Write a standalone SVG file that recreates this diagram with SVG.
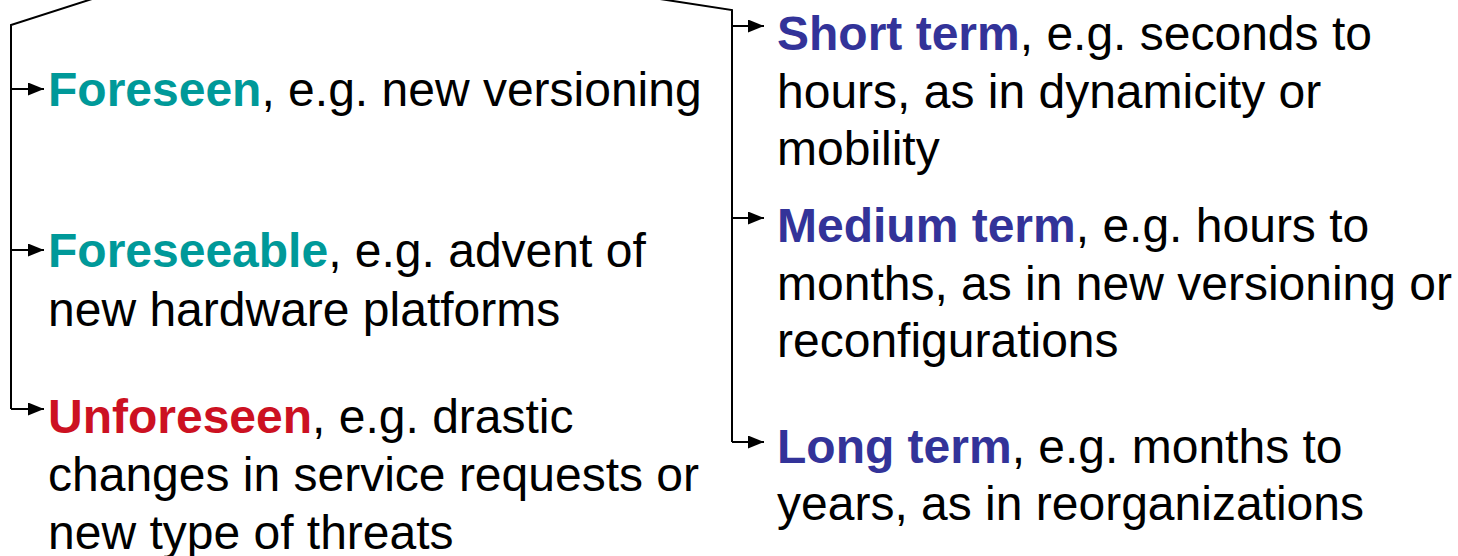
<svg xmlns="http://www.w3.org/2000/svg" width="1458" height="556" viewBox="0 0 1458 556">
  <defs>
    <marker id="arrow" viewBox="0 0 16 13" refX="16" refY="6.5" markerWidth="16" markerHeight="13" markerUnits="userSpaceOnUse" orient="auto">
      <path d="M0,0 L16,6.5 L0,13 z" fill="#000"/>
    </marker>
    <style>
      .txt { font-family: "Liberation Sans", Arial, sans-serif; font-size: 48px; fill: #000; }
      .b { font-weight: bold; }
      .teal { fill: #009999; }
      .blue { fill: #333399; }
      .red { fill: #CC1122; }
      .line { fill: none; stroke: #000; stroke-width: 2; }
      .arr { fill: none; stroke: #000; stroke-width: 2; marker-end: url(#arrow); }
    </style>
  </defs>
  <rect width="1458" height="556" fill="#fff"/>

  <!-- connectors -->
  <g id="connectors">
    <polyline class="line" points="92,-1 11,25 11,409"/>
    <line class="arr" x1="11" y1="89" x2="44" y2="89"/>
    <line class="arr" x1="11" y1="250" x2="44" y2="250"/>
    <line class="arr" x1="11" y1="409" x2="44" y2="409"/>

    <polyline class="line" points="660,-1 732,10 732,442"/>
    <line class="arr" x1="732" y1="26" x2="764" y2="26"/>
    <line class="arr" x1="732" y1="218" x2="764" y2="218"/>
    <line class="arr" x1="732" y1="442" x2="764" y2="442"/>
  </g>

  <!-- left column: kinds of change -->
  <g id="foreseen">
    <text class="txt" x="48" y="106"><tspan class="b teal">Foreseen</tspan>, e.g. new versioning</text>
  </g>
  <g id="foreseeable">
    <text class="txt" x="48" y="267"><tspan class="b teal">Foreseeable</tspan>, e.g. advent of</text>
    <text class="txt" x="48" y="326">new hardware platforms</text>
  </g>
  <g id="unforeseen">
    <text class="txt" x="48" y="433"><tspan class="b red">Unforeseen</tspan>, e.g. drastic</text>
    <text class="txt" x="48" y="491">changes in service requests or</text>
    <text class="txt" x="48" y="549">new type of threats</text>
  </g>

  <!-- right column: time frames -->
  <g id="short-term">
    <text class="txt" x="777" y="50"><tspan class="b blue">Short term</tspan>, e.g. seconds to</text>
    <text class="txt" x="777" y="108">hours, as in dynamicity or</text>
    <text class="txt" x="777" y="165">mobility</text>
  </g>
  <g id="medium-term">
    <text class="txt" x="777" y="242"><tspan class="b blue">Medium term</tspan>, e.g. hours to</text>
    <text class="txt" x="777" y="300">months, as in new versioning or</text>
    <text class="txt" x="777" y="357">reconfigurations</text>
  </g>
  <g id="long-term">
    <text class="txt" x="777" y="463"><tspan class="b blue">Long term</tspan>, e.g. months to</text>
    <text class="txt" x="777" y="520">years, as in reorganizations</text>
  </g>
</svg>
